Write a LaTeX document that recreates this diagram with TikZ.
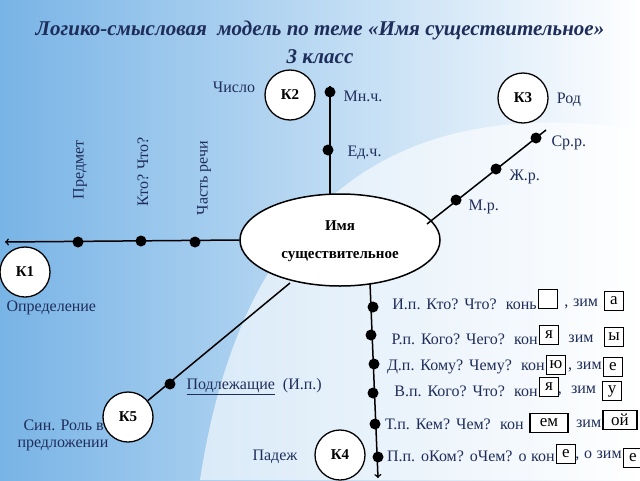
\documentclass[tikz,border=0pt]{standalone}
\usepackage{fontspec}
\setmainfont{Liberation Serif}
\usetikzlibrary{shapes.geometric}
\definecolor{txtblue}{RGB}{31,45,90}
\definecolor{skyblue}{RGB}{120,180,230}
\tikzset{
  dot/.style={circle,fill=black,inner sep=0pt,minimum size=11pt},
  kcircle/.style={circle,draw,line width=1.3pt,fill=white,minimum size=50pt,font=\bfseries\fontsize{15}{17}\selectfont},
  lbl/.style={text=txtblue,font=\fontsize{16}{18}\selectfont},
  case/.style={lbl,anchor=east,inner sep=1pt,font={\fontsize{16}{18}\selectfont\spaceskip=4.6pt plus 1pt\relax}},
  box/.style={draw,line width=1.3pt,fill=white,minimum size=19pt,inner sep=1pt,font=\fontsize{17}{18}\selectfont},
  conn/.style={line width=1.5pt}
}
\begin{document}
\begin{tikzpicture}[x=1pt,y=-1pt]
  \shade[left color=skyblue,right color=white] (0,0) rectangle (640,480);
  \fill[white,opacity=0.6] (200,480) .. controls (250,150) and (450,100) .. (640,130) -- (640,480) -- cycle;
  \useasboundingbox (0,0) rectangle (640,480);

  % title
  \node[text=txtblue,font=\bfseries\itshape\fontsize{21}{23}\selectfont] (title) at (320,30) {Логико-смысловая\ \ модель по теме «Имя существительное»};
  \node[text=txtblue,font=\bfseries\itshape\fontsize{21}{23}\selectfont] (grade) at (320,57) {3 класс};

  % centre
  \node[ellipse,draw,line width=1.5pt,fill=white,minimum width=200pt,minimum height=92pt] (noun) at (340,240) {};
  \node[font=\bfseries\fontsize{15}{17}\selectfont] (nounA) at (340,226) {Имя};
  \node[font=\bfseries\fontsize{15}{17}\selectfont] (nounB) at (340,257) {существительное};

  % K2 number
  \coordinate (numStart) at (330,194);
  \coordinate (numEnd) at (330,86);
  \node[dot] (pl) at (330,92) {};
  \node[dot] (sg) at (328,150) {};
  \draw[conn] (numStart) -- (numEnd);
  \node[kcircle] (k2) at (290,95) {К2};
  \node[lbl] at (234,87) {Число};
  \node[lbl,anchor=west] at (340,96) {Мн.ч.};
  \node[lbl,anchor=west] at (344,153) {Ед.ч.};

  % K3 gender
  \coordinate (genStart) at (427,224);
  \coordinate (genEnd) at (546,130);
  \node[dot] (nt) at (536,138) {};
  \node[dot] (fm) at (496,169) {};
  \node[dot] (ms) at (456,200) {};
  \draw[conn] (genStart) -- (genEnd);
  \node[kcircle] (k3) at (523,98) {К3};
  \node[lbl] at (569,100) {Род};
  \node[lbl,anchor=west] at (548,143) {Ср.р.};
  \node[lbl,anchor=west] at (506,177) {Ж.р.};
  \node[lbl,anchor=west] at (465,207) {М.р.};

  % K1 definition
  \coordinate (defEnd) at (5,242);
  \node[dot] (obj) at (78,242) {};
  \node[dot] (qst) at (141,241) {};
  \node[dot] (pos) at (195,242) {};
  \draw[conn,->] (noun.west) -- (defEnd);
  \node[lbl,rotate=90] at (80,170) {Предмет};
  \node[lbl,rotate=90] at (143,172) {Кто? Что?};
  \node[lbl,rotate=90] at (204,178) {Часть речи};
  \node[kcircle] (k1) at (25,272) {К1};
  \node[lbl,anchor=west] at (3,308) {Определение};

  % K4 cases
  \coordinate (caseStart) at (370,283);
  \coordinate (caseEnd) at (378,478);
  \draw[conn,->] (caseStart) -- (caseEnd);
  \foreach \y/\x in {307/373,335/371,364/374,393/373,424/375,457/378}
    \node[dot] at (\x,\y) {};
  \node[box] (b1) at (548,299) {};
  \node[box] (b1z) at (614,301) {а};
  \node[box] (b2) at (549,335) {я};
  \node[box] (b2z) at (614,337) {ы};
  \node[box] (b3) at (556,365) {ю};
  \node[box] (b3z) at (613,367) {е};
  \node[box] (b4) at (549,387) {я};
  \node[box] (b4z) at (612,391) {у};
  \node[box,minimum width=38pt] (b5) at (549,423) {ем};
  \node[box,minimum width=34pt] (b5z) at (620,420) {ой};
  \node[box] (b6) at (566,454) {е};
  \node[box] (b6z) at (633,458) {е};
  \node[case] (c1) at (b1.west |- 0,304) {И.п. Кто? Что?\ \ конь};
  \node[case] (c1b) at (b1z.west |- 0,304) {, зим\ \ };
  \node[case] (c2) at (b2.west |- 0,339) {Р.п. Кого? Чего?\ \ кон};
  \node[case] (c2b) at (b2z.west |- 0,339) {зим\ \ \ };
  \node[case] (c3) at (b3.west |- 0,367) {Д.п. Кому? Чему?\ \ кон};
  \node[case] (c3b) at (b3z.west |- 0,367) {, зим};
  \node[case] (c4) at (b4.west |- 0,391) {В.п. Кого? Что?\ \ кон};
  \node[case] (c4b) at (b4z.west |- 0,391) {,\ \ зим\ \ };
  \node[case] (c5) at (b5.west |- 0,424) {Т.п. Кем? Чем?\ \ кон\ \ };
  \node[case] (c5b) at (b5z.west |- 0,424) {зим};
  \node[case] (c6) at (b6.west |- 0,456) {П.п. оКом? оЧем? о кон};
  \node[case] (c6b) at (b6z.west |- 0,456) {, о зим};
  \node[kcircle] (k4) at (340,455) {К4};
  \node[lbl] at (275,457) {Падеж};

  % K5 syntax role
  \coordinate (roleStart) at (290,283);
  \node[kcircle] (k5) at (128,417) {К5};
  \node[dot] (subj) at (170,384) {};
  \draw[conn] (roleStart) -- (k5);
  \node[lbl,anchor=west] at (183,387) {\underline{Подлежащие}\ \ (И.п.)};
  \node[lbl,anchor=west] at (20,425) {Син. Роль в};
  \node[lbl,anchor=west] at (14,445) {предложении};
\end{tikzpicture}
\end{document}
